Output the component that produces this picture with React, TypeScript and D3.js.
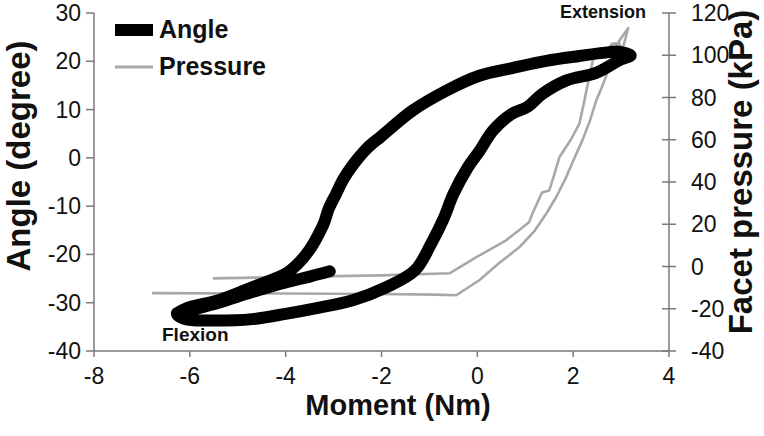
import React from "react";
import * as d3 from "d3";

// ---- data ----
const angleMoment = [
  -3.08, -3.5, -4.0, -4.7, -5.4, -6.0, -6.27,
  -6.1, -5.58, -4.7, -4.0, -3.3, -2.6, -1.9, -1.3, -0.95, -0.7, -0.5, -0.2, 0.05, 0.32, 0.7, 1.05, 1.35, 1.85, 2.48, 3.0, 3.2,
  2.95, 2.75, 2.13, 1.44, 0.73, 0.04, -0.65, -1.35, -2.0, -2.3, -2.6, -2.8, -2.95, -3.1, -3.2, -3.35, -3.5, -3.75, -4.0, -4.7, -5.4, -6.06, -6.27,
];
const angleValues = [
  -23.5, -24.6, -25.8, -27.8, -30.0, -31.6, -32.3,
  -33.4, -33.7, -33.4, -32.3, -31.0, -29.5, -26.8, -23.3, -17.5, -12.5, -7.5, -2.0, 1.5, 5.6, 9.0, 10.6, 13.2, 16.0, 17.6, 20.4, 21.2,
  22.0, 21.9, 21.1, 20.1, 18.6, 17.0, 13.9, 9.8, 4.5, 2.0, -1.5, -4.5, -7.5, -10.5, -13.5, -16.5, -19.0, -22.0, -24.0, -26.8, -29.5, -31.1, -32.2,
];

const pressureMoment = [
  -6.79, -4.0, -2.0, -0.9, -0.44, 0.04, 0.45, 0.875, 1.2, 1.44, 1.65, 1.85, 2.02, 2.19, 2.35, 2.48, 2.62, 2.75, 2.92, 3.15,
  3.02, 2.96, 2.81, 2.69, 2.44, 2.33, 2.23, 2.13, 1.95, 1.71, 1.6, 1.5, 1.35, 1.15, 1.08, 0.6, -0.02, -0.58, -2.0, -4.0, -5.52,
];
const pressureValues = [
  -12.6, -12.8, -13.0, -13.3, -13.6, -6.5, 1.5, 9.1, 17, 25.1, 33, 42.1, 51, 59.6, 69, 78.5, 86, 94.0, 105.4, 112.9,
  102, 105.8, 105.4, 101.1, 100.6, 89.3, 78, 67.6, 60, 51.6, 43, 36, 35.0, 25.1, 20.9, 12.4, 4.4, -3.2, -4.2, -5.0, -5.6,
];

const xTicks = [-8, -6, -4, -2, 0, 2, 4];
const leftTicks = [30, 20, 10, 0, -10, -20, -30, -40];
const rightTicks = [120, 100, 80, 60, 40, 20, 0, -20, -40];

const W = 764;
const H = 436;
const AX = "#7a7a7a";
const FONT = "'Liberation Sans', Arial, sans-serif";

export default function App() {
  const x = d3.scaleLinear().domain([-8, 4]).range([94, 669]);
  const yL = d3.scaleLinear().domain([-40, 30]).range([351, 13]);
  const yR = d3.scaleLinear().domain([-40, 120]).range([351, 13]);

  const angleLine = d3
    .line<number>()
    .x((_, i) => x(angleMoment[i]))
    .y((d) => yL(d))
    .curve(d3.curveCatmullRom.alpha(0.5));
  const pressureLine = d3
    .line<number>()
    .x((_, i) => x(pressureMoment[i]))
    .y((d) => yR(d))
    .curve(d3.curveLinear);

  return (
    <svg
      width={W}
      height={H}
      style={{ position: "absolute", left: 0, top: 0, background: "#fff" }}
      fontFamily={FONT}
    >
      <rect width={W} height={H} fill="#fff" />
      {/* axes */}
      <line x1={x(-8)} x2={x(-8)} y1={yL(30)} y2={yL(-40)} stroke={AX} strokeWidth={1.5} />
      <line x1={x(4)} x2={x(4)} y1={yR(120)} y2={yR(-40)} stroke={AX} strokeWidth={1.5} />
      <line x1={x(-8)} x2={x(4)} y1={yL(-40)} y2={yL(-40)} stroke={AX} strokeWidth={1.5} />
      {leftTicks.map((t) => (
        <g key={"l" + t}>
          <line x1={x(-8) - 8} x2={x(-8)} y1={yL(t)} y2={yL(t)} stroke={AX} strokeWidth={1.5} />
          <text x={x(-8) - 13} y={yL(t)} dy="0.35em" textAnchor="end" fontSize={23} fill="#111">
            {t}
          </text>
        </g>
      ))}
      {rightTicks.map((t) => (
        <g key={"r" + t}>
          <line x1={x(4) - 7} x2={x(4) + 7} y1={yR(t)} y2={yR(t)} stroke={AX} strokeWidth={1.5} />
          <text x={x(4) + 22} y={yR(t)} dy="0.35em" textAnchor="start" fontSize={23} fill="#111">
            {t}
          </text>
        </g>
      ))}
      {xTicks.map((t) => (
        <g key={"x" + t}>
          <line x1={x(t)} x2={x(t)} y1={yL(-40)} y2={yL(-40) + 6} stroke={AX} strokeWidth={1.5} />
          <text x={x(t)} y={384} textAnchor="middle" fontSize={23} fill="#111">
            {t}
          </text>
        </g>
      ))}

      {/* series */}
      <path
        d={pressureLine(pressureValues) || ""}
        fill="none"
        stroke="#a8a8a8"
        strokeWidth={2.6}
        strokeLinejoin="round"
      />
      <path
        d={angleLine(angleValues) || ""}
        fill="none"
        stroke="#000"
        strokeWidth={12}
        strokeLinejoin="round"
        strokeLinecap="round"
      />

      {/* axis titles */}
      <text x={398} y={415} textAnchor="middle" fontSize={29} fontWeight="bold" fill="#111">
        Moment (Nm)
      </text>
      <text
        transform={`translate(30,156) rotate(-90)`}
        textAnchor="middle"
        fontSize={33}
        fontWeight="bold"
        fill="#111"
      >
        Angle (degree)
      </text>
      <text
        transform={`translate(752,172) rotate(-90)`}
        textAnchor="middle"
        fontSize={33}
        fontWeight="bold"
        fill="#111"
      >
        Facet pressure (kPa)
      </text>

      {/* legend */}
      <rect x={115} y={24} width={38} height={12} fill="#000" />
      <text x={159} y={38} fontSize={25} fontWeight="bold" fill="#111">
        Angle
      </text>
      <line x1={115} x2={153} y1={67} y2={67} stroke="#a8a8a8" strokeWidth={3} />
      <text x={159} y={75} fontSize={25} fontWeight="bold" fill="#111">
        Pressure
      </text>

      {/* annotations */}
      <text x={162} y={341} fontSize={19} fontWeight="bold" fill="#111">
        Flexion
      </text>
      <text x={560} y={18} fontSize={18} fontWeight="bold" fill="#111">
        Extension
      </text>
    </svg>
  );
}
